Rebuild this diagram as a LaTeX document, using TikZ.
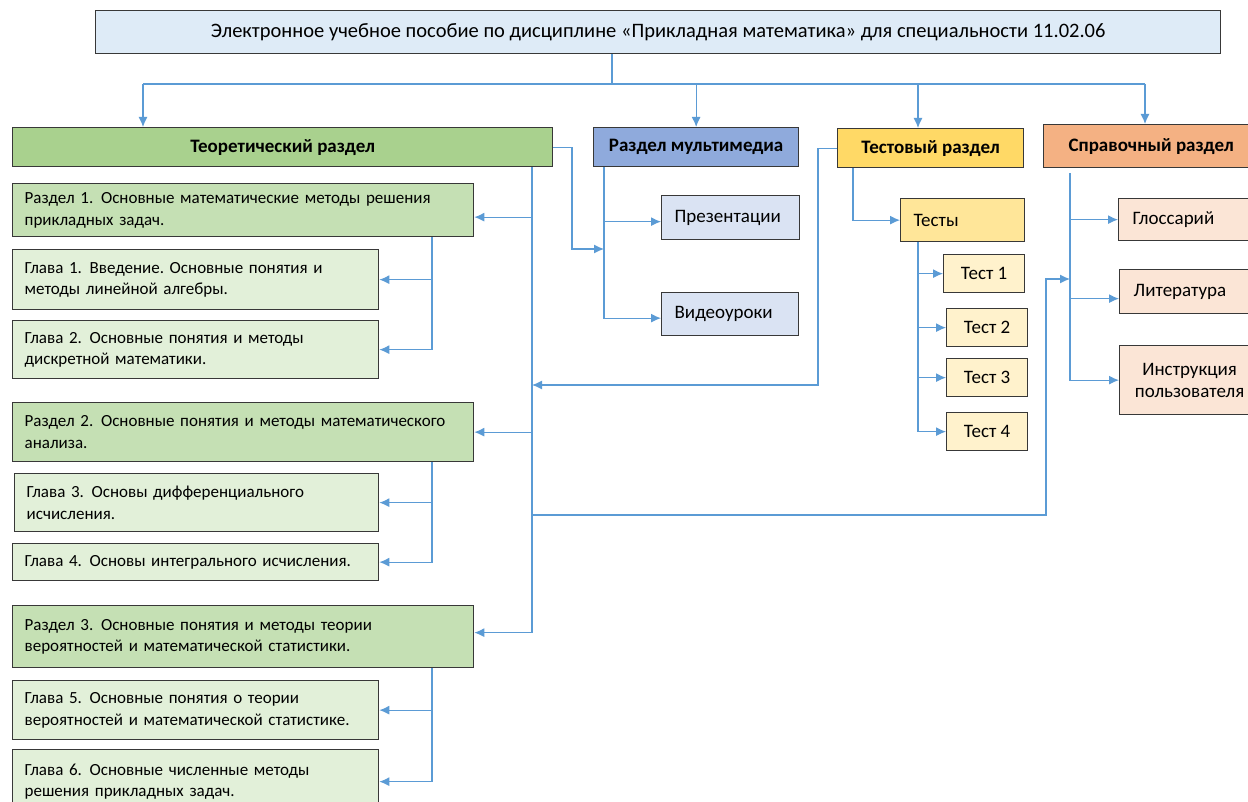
\documentclass[tikz,border=0pt]{standalone}
\usepackage{fontspec}
\setmainfont{Carlito}
\usetikzlibrary{arrows.meta}
\definecolor{lnc}{HTML}{5B9BD5}
\definecolor{bord}{HTML}{383838}
\definecolor{cTitle}{HTML}{DEEBF7}
\definecolor{cTheo}{HTML}{A9D18E}
\definecolor{cRaz}{HTML}{C5E0B4}
\definecolor{cGl}{HTML}{E2F0D9}
\definecolor{cMM}{HTML}{8FAADC}
\definecolor{cMMs}{HTML}{DAE3F3}
\definecolor{cTest}{HTML}{FFD966}
\definecolor{cTests}{HTML}{FFE699}
\definecolor{cT}{HTML}{FFF2CC}
\definecolor{cSpr}{HTML}{F4B183}
\definecolor{cSprs}{HTML}{FBE5D6}
\newcommand\mygap{\hspace{0.45em}}
\frenchspacing
\tikzset{
  bx/.style={draw=bord, line width=1.3pt, inner xsep=12pt, inner ysep=0pt, anchor=north west, font=\frenchspacing\fontsize{17}{21.5}\selectfont},
  lbx/.style={bx, align=left},
  cbx/.style={bx, align=center},
  hdr/.style={bx, align=center, font=\bfseries\fontsize{19}{22}\selectfont},
  big/.style={font=\fontsize{19}{22}\selectfont},
  line/.style={draw=lnc, line width=1.2pt},
  arr/.style={line, -{Latex[length=10pt,width=9pt]}}
}
\begin{document}
\begin{tikzpicture}[x=1pt,y=-1pt]
\useasboundingbox[fill=white] (0,0) rectangle (1248,802);
% title
\node[cbx, fill=cTitle, minimum width=1125pt, minimum height=43pt, font=\fontsize{20.5}{22}\selectfont] (title) at (95,10) {Электронное учебное пособие по дисциплине «Прикладная математика» для специальности 11.02.06};
% headers
\node[hdr, fill=cTheo, minimum width=540pt, minimum height=39pt] (theo) at (12,127) {Теоретический раздел};
\node[hdr, fill=cMM, minimum width=205pt, minimum height=39pt] (mm) at (593,127) {Раздел мультимедиа};
\node[hdr, fill=cTest, minimum width=186pt, minimum height=39pt] (test) at (837,128) {Тестовый раздел};
\node[hdr, fill=cSpr, minimum width=215pt, minimum height=43pt] (spr) at (1043,124) {Справочный раздел};
% left column
\node[lbx, fill=cRaz, minimum height=53pt, text width=437pt] (r1) at (12,183) {Раздел 1.\mygap Основные математические методы решения\\прикладных задач.};
\node[lbx, fill=cGl, minimum height=60pt, text width=342pt] (g1) at (12,249) {Глава 1.\mygap Введение. Основные понятия и\\методы линейной алгебры.};
\node[lbx, fill=cGl, minimum height=58pt, text width=342pt] (g2) at (12,320) {Глава 2.\mygap Основные понятия и методы\\дискретной математики.};
\node[lbx, fill=cRaz, minimum height=59pt, text width=437pt] (r2) at (12,402) {Раздел 2.\mygap Основные понятия и методы математического\\анализа.};
\node[lbx, fill=cGl, minimum height=58pt, text width=340pt] (g3) at (14,473) {Глава 3.\mygap Основы дифференциального\\исчисления.};
\node[lbx, fill=cGl, minimum height=37pt, text width=342pt] (g4) at (12,543) {Глава 4.\mygap Основы интегрального исчисления.};
\node[lbx, fill=cRaz, minimum height=62pt, text width=437pt] (r3) at (12,605) {Раздел 3.\mygap Основные понятия и методы теории\\вероятностей и математической статистики.};
\node[lbx, fill=cGl, minimum height=59pt, text width=342pt] (g5) at (12,680) {Глава 5.\mygap Основные понятия о теории\\вероятностей и математической статистике.};
\node[lbx, fill=cGl, minimum height=64pt, text width=342pt] (g6) at (12,749) {Глава 6.\mygap Основные численные методы\\решения прикладных задач.};
% multimedia
\node[lbx, big, fill=cMMs, inner xsep=13pt, minimum height=44pt, text width=112pt] (pres) at (661,195) {Презентации};
\node[lbx, big, fill=cMMs, inner xsep=13pt, minimum height=43pt, text width=111pt] (vid) at (661,292) {Видеоуроки};
% tests
\node[lbx, big, fill=cTests, inner xsep=13pt, minimum height=43pt, text width=98pt] (tests) at (900,198) {Тесты};
\node[cbx, big, fill=cT, minimum width=81pt, minimum height=38pt] (t1) at (943,254) {Тест 1};
\node[cbx, big, fill=cT, minimum width=81pt, minimum height=38pt] (t2) at (946,308) {Тест 2};
\node[cbx, big, fill=cT, minimum width=81pt, minimum height=38pt] (t3) at (946,358) {Тест 3};
\node[cbx, big, fill=cT, minimum width=81pt, minimum height=38pt] (t4) at (946,412) {Тест 4};
% reference
\node[lbx, big, fill=cSprs, inner xsep=14pt, minimum height=42pt, text width=112pt] (gl) at (1118,198) {Глоссарий};
\node[lbx, big, fill=cSprs, inner xsep=14pt, minimum height=44pt, text width=112pt] (lit) at (1119,269) {Литература};
\node[cbx, big, fill=cSprs, minimum width=140pt, minimum height=69pt] (ins) at (1119,345) {Инструкция\\пользователя};
% ---- connectors
\coordinate (bus) at (612,84);
\coordinate (b1) at (143,84);
\coordinate (b3) at (918,84);
\coordinate (b4) at (1145,84);
\draw[line] (title.south -| bus) -- (bus);
\draw[line] (b1) -- (b4);
\draw[arr] (b1) -- (b1 |- theo.north);
\draw[arr] (bus -| mm.north) -- (mm.north);
\draw[arr] (b3) -- (b3 |- test.north);
\draw[arr] (b4) -- (b4 |- spr.north);
% theoretical main vertical
\coordinate (tvx) at (532,0);
\draw[arr] (theo.south -| tvx) |- ([yshift=4pt]r3.east);
\draw[arr] ([yshift=-7pt]r1.east -| tvx) -- ([yshift=-7pt]r1.east);
\draw[arr] (r2.east -| tvx) -- (r2.east);
% sub verticals
\coordinate (sx) at (432,0);
\draw[arr] (r1.south -| sx) |- (g2.east);
\draw[arr] (g1.east -| sx) -- (g1.east);
\draw[arr] (r2.south -| sx) |- (g4.east);
\draw[arr] (g3.east -| sx) -- (g3.east);
\draw[arr] (r3.south -| sx) |- (g6.east);
\draw[arr] (g5.east -| sx) -- (g5.east);
% theo -> multimedia
\coordinate (mvx) at (604,0);
\coordinate (p1) at (572,249);
\draw[arr] (theo.east) -| (p1) -- (p1 -| mvx);
\draw[arr] (mm.south -| mvx) |- ([yshift=-4pt]vid.west);
\draw[arr] ([yshift=-4pt]pres.west -| mvx) -- ([yshift=-4pt]pres.west);
% test -> theo
\coordinate (tl) at (818,385);
\draw[arr] (test.west) -| (tl) -- (tl -| tvx);
% tests
\coordinate (tvx2) at (853,0);
\draw[arr] (test.south -| tvx2) |- (tests.west);
\coordinate (tsx) at (918,0);
\draw[arr] (tests.south -| tsx) |- (t4.west);
\draw[arr] (t1.west -| tsx) -- (t1.west);
\draw[arr] (t2.west -| tsx) -- (t2.west);
\draw[arr] (t3.west -| tsx) -- (t3.west);
% reference
\coordinate (svx) at (1070,0);
\draw[arr] ([yshift=-5pt]spr.south -| svx) |- (ins.west);
\draw[arr] (gl.west -| svx) -- (gl.west);
\draw[arr] ([yshift=-7pt]lit.west -| svx) -- ([yshift=-7pt]lit.west);
% theo -> reference
\coordinate (q1) at (1046,515);
\coordinate (q2) at (1070,279);
\draw[arr] (q1 -| tvx) -- (q1) |- (q2);
\end{tikzpicture}
\end{document}
